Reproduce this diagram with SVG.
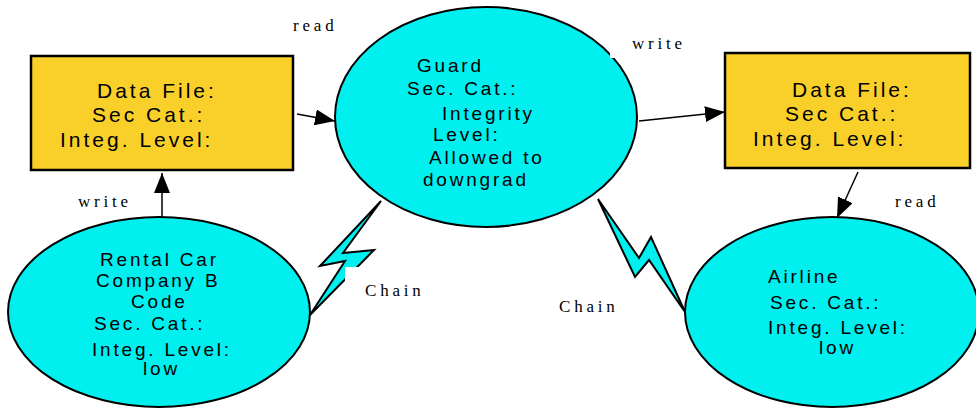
<svg xmlns="http://www.w3.org/2000/svg" width="976" height="409" viewBox="0 0 976 409">
<style>
.ell{fill:#00EFEF;stroke:#000;stroke-width:2}
.box{fill:#F9D02A;stroke:#000;stroke-width:2.5}
.bt{font-family:"Liberation Sans",Arial,sans-serif;font-size:21px;letter-spacing:3px;fill:#000}
.et{font-family:"Liberation Sans",Arial,sans-serif;font-size:19px;letter-spacing:2.8px;fill:#000}
.lbl{font-family:"Liberation Serif","Times New Roman",serif;font-size:17px;letter-spacing:3.8px;fill:#000}
.edge{stroke:#000;stroke-width:1.5;fill:none}
.bolt{fill:#00EFEF;stroke:#000;stroke-width:2;stroke-linejoin:miter}
</style>
<defs>
<marker id="ah" markerUnits="userSpaceOnUse" markerWidth="20" markerHeight="16" refX="20" refY="8" orient="auto">
<path d="M0,0 L20,8 L0,16 z" fill="#000"/>
</marker>
</defs>
<rect width="976" height="409" fill="#fff"/>
<g id="guard">
<ellipse class="ell" cx="486" cy="117" rx="151" ry="110"/>
<text class="et" x="417" y="72">Guard</text>
<text class="et" x="407" y="95">Sec. Cat.:</text>
<text class="et" x="442" y="120">Integrity</text>
<text class="et" x="433" y="141">Level:</text>
<text class="et" x="429" y="164">Allowed to</text>
<text class="et" x="423" y="186">downgrad</text>
</g>
<g id="rental">
<ellipse class="ell" cx="159" cy="312" rx="151" ry="95"/>
<text class="et" x="100" y="266">Rental Car</text>
<text class="et" x="96" y="287">Company B</text>
<text class="et" x="131" y="308">Code</text>
<text class="et" x="94" y="330">Sec. Cat.:</text>
<text class="et" x="92" y="356">Integ. Level:</text>
<text class="et" x="143" y="375">low</text>
</g>
<g id="airline">
<ellipse class="ell" cx="832" cy="312" rx="147" ry="95"/>
<text class="et" x="768" y="283">Airline</text>
<text class="et" x="770" y="309">Sec. Cat.:</text>
<text class="et" x="768" y="334">Integ. Level:</text>
<text class="et" x="819" y="354">low</text>
</g>
<g id="file1">
<rect class="box" x="31" y="56" width="262" height="114"/>
<text class="bt" x="97" y="98">Data File:</text>
<text class="bt" x="92" y="122">Sec Cat.:</text>
<text class="bt" x="60" y="147">Integ. Level:</text>
</g>
<g id="file2">
<rect class="box" x="725" y="53" width="245" height="115"/>
<text class="bt" x="792" y="97">Data File:</text>
<text class="bt" x="785" y="121">Sec Cat.:</text>
<text class="bt" x="753" y="146">Integ. Level:</text>
</g>
<g id="connectors">
<line class="edge" x1="297" y1="114" x2="335" y2="121" marker-end="url(#ah)"/>
<line class="edge" x1="639" y1="121" x2="725" y2="112" marker-end="url(#ah)"/>
<line class="edge" x1="162" y1="217" x2="162" y2="173" marker-end="url(#ah)"/>
<line class="edge" x1="858" y1="172" x2="837" y2="218" marker-end="url(#ah)"/>
<polygon class="bolt" points="381,201 343,253 374,250 310,315 345,261 320,266"/>
<polygon class="bolt" points="598,199 639,258 651,237 685,312 649,260 635,277"/>
<rect x="610" y="28" width="80" height="30" fill="#fff"/>
<rect x="345" y="267" width="80" height="35" fill="#fff"/>
<text class="lbl" x="293" y="31">read</text>
<text class="lbl" x="632" y="49">write</text>
<text class="lbl" x="78" y="207">write</text>
<text class="lbl" x="895" y="207">read</text>
<text class="lbl" x="365" y="296">Chain</text>
<text class="lbl" x="559" y="312">Chain</text>
</g>
</svg>
